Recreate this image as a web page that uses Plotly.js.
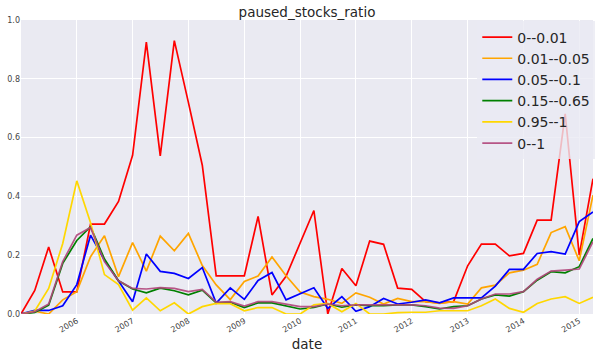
<!DOCTYPE html>
<html>
<head>
<meta charset="utf-8">
<script src="https://cdn.plot.ly/plotly-3.0.1.min.js"></script>
<style>html,body{margin:0;padding:0;background:#fff;}#chart{width:600px;height:358px;}</style>
</head>
<body>
<div id="chart"></div>
<script>
const dates = [
  "2005-01-01","2005-04-01","2005-07-01","2005-10-01",
  "2006-01-01","2006-04-01","2006-07-01","2006-10-01",
  "2007-01-01","2007-04-01","2007-07-01","2007-10-01",
  "2008-01-01","2008-04-01","2008-07-01","2008-10-01",
  "2009-01-01","2009-04-01","2009-07-01","2009-10-01",
  "2010-01-01","2010-04-01","2010-07-01","2010-10-01",
  "2011-01-01","2011-04-01","2011-07-01","2011-10-01",
  "2012-01-01","2012-04-01","2012-07-01","2012-10-01",
  "2013-01-01","2013-04-01","2013-07-01","2013-10-01",
  "2014-01-01","2014-04-01","2014-07-01","2014-10-01",
  "2015-01-01","2015-04-01"
];
const seriesNames = ["0--0.01","0.01--0.05","0.05--0.1","0.15--0.65","0.95--1","0--1"];
const r_0_001 = [0,0.08,0.228,0.075,0.075,0.306,0.306,0.383,0.54,0.925,0.538,0.93,0.72,0.506,0.13,0.13,0.13,0.332,0.065,0.128,0.24,0.352,0,0.155,0.096,0.248,0.237,0.088,0.084,0.042,0.038,0.042,0.164,0.238,0.238,0.198,0.206,0.319,0.319,0.681,0.2,0.46];
const r_001_005 = [0,0.01,0,0.048,0.076,0.195,0.266,0.127,0.243,0.146,0.265,0.215,0.274,0.165,0.099,0.049,0.111,0.129,0.194,0.13,0.075,0.059,0.05,0.036,0.072,0.057,0.034,0.053,0.042,0.042,0.036,0.042,0.034,0.089,0.098,0.14,0.149,0.169,0.277,0.297,0.181,0.404];
const r_005_01 = [0,0.012,0.012,0.028,0.1,0.268,0.183,0.113,0.042,0.204,0.145,0.138,0.121,0.158,0.037,0.089,0.05,0.114,0.141,0.048,0.07,0.089,0.019,0.059,0.009,0.025,0.053,0.034,0.04,0.048,0.038,0.055,0.055,0.055,0.095,0.152,0.152,0.206,0.212,0.204,0.314,0.347];
const r_015_065 = [0,0.005,0.03,0.172,0.25,0.297,0.187,0.113,0.085,0.072,0.088,0.079,0.065,0.081,0.038,0.04,0.022,0.038,0.038,0.028,0.017,0.022,0.034,0.023,0.031,0.028,0.028,0.031,0.031,0.025,0.017,0.025,0.028,0.051,0.065,0.061,0.076,0.115,0.144,0.14,0.161,0.257];
const r_095_1 = [0,0.01,0.087,0.24,0.453,0.31,0.134,0.1,0.013,0.055,0.011,0.038,0,0.025,0.036,0.035,0.011,0.022,0.022,0,0,0.031,0.036,0.008,0.036,0,0,0.005,0.006,0.006,0.011,0.011,0.011,0.028,0.051,0.019,0.006,0.036,0.051,0.059,0.036,0.057];
const r_0_1 = [0,0.008,0.034,0.178,0.268,0.294,0.178,0.113,0.087,0.085,0.09,0.087,0.076,0.084,0.04,0.042,0.027,0.042,0.042,0.033,0.025,0.025,0.034,0.028,0.031,0.031,0.031,0.031,0.031,0.028,0.02,0.019,0.028,0.051,0.068,0.068,0.076,0.118,0.146,0.149,0.153,0.246];
const tickDates = ["2006-01-01","2007-01-01","2008-01-01","2009-01-01","2010-01-01","2011-01-01","2012-01-01","2013-01-01","2014-01-01","2015-01-01"];
const tickLabels = ["2006","2007","2008","2009","2010","2011","2012","2013","2014","2015"];
const yTicks = [0,0.2,0.4,0.6,0.8,1.0];
const yTickLabels = ["0.0","0.2","0.4","0.6","0.8","1.0"];

const allSeries = [r_0_001, r_001_005, r_005_01, r_015_065, r_095_1, r_0_1];
const colors = ["#ff0000","#ffa500","#0000ff","#008000","#ffd700","#b0457a"];

const traces = allSeries.map((vals, k) => ({
  x: dates, y: vals, type: "scatter", mode: "lines", name: seriesNames[k],
  line: {color: colors[k], width: 1.7}, opacity: k === 5 ? 0.9 : 1
}));

const layout = {
  width: 600, height: 358,
  margin: {l: 21, r: 5, t: 20, b: 44},
  paper_bgcolor: "#ffffff",
  plot_bgcolor: "#eaeaf2",
  font: {family: "DejaVu Sans, sans-serif", color: "#444"},
  title: {text: "paused_stocks_ratio", font: {size: 13.5, color: "#262626"}, x: 0.5, xref: "paper", y: 0.966, yref: "container", yanchor: "middle"},
  showlegend: true,
  legend: {x: 1.004, xanchor: "right", y: 0.995, yanchor: "top", bgcolor: "rgba(234,234,242,0.8)", borderwidth: 0,
           font: {size: 14, color: "#262626"}, itemwidth: 30, tracegroupgap: 0},
  xaxis: {
    type: "date", range: ["2005-01-01","2015-04-01"],
    tickmode: "array", tickvals: tickDates, ticktext: tickLabels, tickangle: -30,
    tickfont: {size: 8, color: "#444"},
    showgrid: true, gridcolor: "#ffffff", gridwidth: 1, zeroline: false, showline: false, ticks: "",
    title: {text: "date", font: {size: 13.5, color: "#262626"}, standoff: 6}
  },
  yaxis: {
    range: [0, 1.0], tickmode: "array", tickvals: yTicks, ticktext: yTickLabels,
    tickfont: {size: 8, color: "#444"},
    showgrid: true, gridcolor: "#ffffff", gridwidth: 1, zeroline: false, showline: false, ticks: ""
  }
};
Plotly.newPlot("chart", traces, layout, {displayModeBar: false, staticPlot: true});
</script>
</body>
</html>
